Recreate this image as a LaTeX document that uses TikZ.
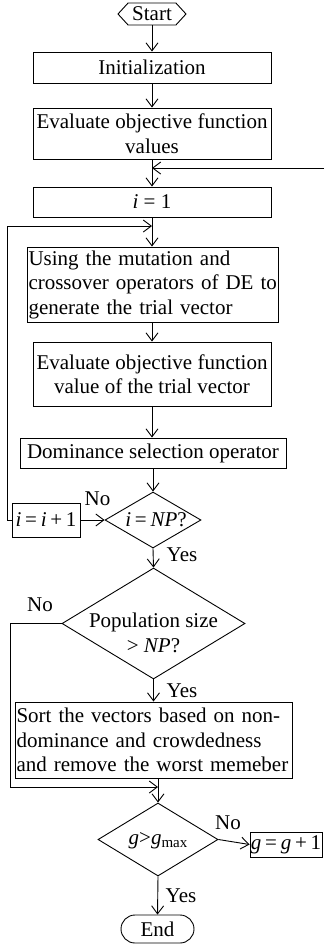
\documentclass[tikz,border=0pt]{standalone}
\usepackage{fontspec}
\setmainfont{Liberation Serif}
\usetikzlibrary{shapes.geometric,shapes.symbols,shapes.misc,arrows.meta}
\tikzset{
  box/.style={draw, rectangle, inner sep=1pt, align=center},
  lbox/.style={draw, rectangle, inner xsep=1.5pt, inner ysep=1pt, align=left},
  arr/.style={-{Straight Barb[length=8pt,width=12pt]}},
  dia/.style={draw, diamond, inner sep=0pt},
  lbl/.style={inner sep=0pt},
}
\newcommand{\mysp}{\hspace{0.18em}}
\begin{document}
\begin{tikzpicture}[x=1pt,y=-1pt,line width=0.9pt,font=\fontsize{21}{24.5}\selectfont]
\useasboundingbox (0,0) rectangle (324,945);
% nodes
\node[draw, signal, signal to=west and east, signal pointer angle=95,
      minimum width=68pt, minimum height=22pt, inner xsep=1pt, inner ysep=0pt] (start) at (152,14) {Start};
\node[box, minimum width=238pt, minimum height=31pt] (init) at (152,67.5) {Initialization};
\node[box, minimum width=238pt, minimum height=51pt] (eval1) at (152,133.5) {Evaluate objective function\\values};
\node[box, minimum width=238pt, minimum height=30pt] (i1) at (152,202) {\textit{i} = 1};
\node[lbox, text width=248pt, minimum height=75pt] (using) at (152.5,284.5)
  {\mbox{Using the mutation and}\\\mbox{crossover operators of DE to}\\\mbox{generate the trial vector}};
\node[box, minimum width=238pt, minimum height=64pt] (eval2) at (152,374) {Evaluate objective function\\value of the trial vector};
\node[box, minimum width=266pt, minimum height=30pt] (dom) at (153,453) {Dominance selection operator};
\node[dia, minimum width=96pt, minimum height=56pt] (d1) at (153,520) {};
\node[lbl] (d1t) at (156,520) {\textit{i}\mysp=\mysp\textit{NP}?};
\node[box, minimum width=68pt, minimum height=34pt, inner sep=0pt] (iinc) at (46,520) {\textit{i}\mysp=\mysp\textit{i}\mysp+\mysp1};
\node[dia, minimum width=183pt, minimum height=111pt] (d2) at (153.5,623.5) {};
\node[lbl, align=center] (d2t) at (153.5,633) {Population size\\> \textit{NP}?};
\node[lbox, text width=274pt, minimum height=76pt] (sort) at (153.5,740)
  {\mbox{Sort the vectors based on non-}\\\mbox{dominance and crowdedness}\\\mbox{and remove the worst memeber}};
\node[dia, minimum width=120pt, minimum height=73pt] (d3) at (158,839.5) {};
\node[lbl] (d3t) at (158,841) {\textit{g}>\textit{g}\raisebox{-0.12em}{\fontsize{15}{15}\selectfont max}};
\node[box, minimum width=72pt, minimum height=25pt, inner sep=0pt] (ginc) at (286,844.5) {\textit{g}\mysp=\mysp\textit{g}\mysp+\mysp1};
\node[draw, rounded rectangle, minimum width=75pt, minimum height=28pt, inner sep=1pt] (end) at (157.5,929) {End};
% labels
\node[lbl] (no1) at (97.5,499) {No};
\node[lbl] (yes1) at (182,555) {Yes};
\node[lbl] (no2) at (40,605) {No};
\node[lbl] (yes2) at (182,691) {Yes};
\node[lbl] (no3) at (228,823) {No};
\node[lbl] (yes3) at (181,896) {Yes};
% coordinates
\coordinate (rin) at (324,168);
\coordinate (lA) at (7,520);
\coordinate (lB) at (7,226);
\coordinate (mA) at (10,623.5);
\coordinate (mB) at (10,787);
% connectors
\draw[arr] (start.south) -- (init.north);
\draw[arr] (init.south) -- (eval1.north);
\draw[arr] (eval1.south) -- (i1.north);
\draw[arr] (rin) -- (rin -| i1.north);
\draw[arr] (i1.south) -- (i1.south |- using.north);
\draw[arr] (iinc.west) -- (lA) -- (lB) -- (lB -| i1.south);
\draw[arr] (using.south -| eval2.north) -- (eval2.north);
\draw[arr] (eval2.south) -- (eval2.south |- dom.north);
\draw[arr] (dom.south) -- (d1.north);
\draw[arr] (iinc.east) -- (d1.west);
\draw[arr] (d1.south) -- (d2.north);
\draw[arr] (d2.south) -- (sort.north);
\draw[arr] (sort.south -| d3.north) -- (d3.north);
\draw[arr] (d2.west) -- (mA) -- (mB) -- (mB -| d3.north);
\draw[arr] (d3.east) -- (ginc.west);
\draw[arr] (d3.south) -- (end.north);
\end{tikzpicture}
\end{document}
